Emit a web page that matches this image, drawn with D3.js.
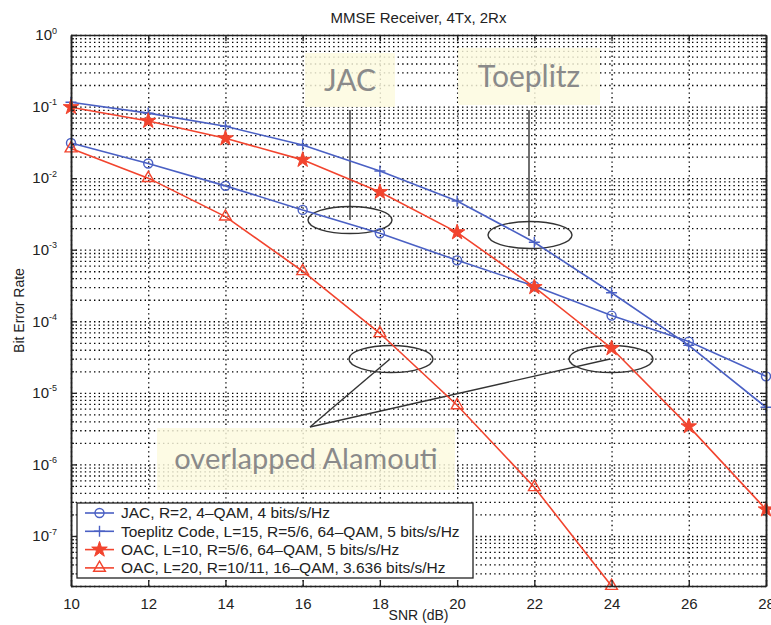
<!DOCTYPE html>
<html>
<head>
<meta charset="utf-8">
<script src="https://cdn.jsdelivr.net/npm/d3@7"></script>
<style>
body { margin: 0; background: #fff; }
text { font-family: "Liberation Sans", Arial, sans-serif; }
</style>
</head>
<body>
<div id="svgcontainer"></div>
<script>
// data
var snr = [10, 12, 14, 16, 18, 20, 22, 24, 26, 28]
var berJAC = [0.031, 0.016, 0.0078, 0.0036, 0.0017, 0.00071, 0.00031, 0.00012, 0.000052, 0.000017]
var berToeplitz = [0.115, 0.081, 0.053, 0.029, 0.0126, 0.0048, 0.00127, 0.00025, 0.000046, 0.0000063]
var berOAC10 = [0.098, 0.063, 0.036, 0.018, 0.0064, 0.00175, 0.0003, 0.000042, 0.0000034, 0.000000235]
var berOAC20 = [0.026, 0.010, 0.0029, 0.0005, 0.000068, 0.0000067, 0.00000048, 0.00000002]
var seriesNames = [
    "JAC, R=2, 4\u2013QAM, 4 bits/s/Hz",
    "Toeplitz Code, L=15, R=5/6, 64\u2013QAM, 5 bits/s/Hz",
    "OAC, L=10, R=5/6, 64\u2013QAM, 5 bits/s/Hz",
    "OAC, L=20, R=10/11, 16\u2013QAM, 3.636 bits/s/Hz"
]
var xTicks = [10, 12, 14, 16, 18, 20, 22, 24, 26, 28]
var yExponents = [0, -1, -2, -3, -4, -5, -6, -7]
var yMin = 2e-8

var blue = "#4a60c4", red = "#f2442e"
var series = [
    { name: seriesNames[0], values: berJAC, color: blue, marker: "circle" },
    { name: seriesNames[1], values: berToeplitz, color: blue, marker: "plus" },
    { name: seriesNames[2], values: berOAC10, color: red, marker: "star" },
    { name: seriesNames[3], values: berOAC20, color: red, marker: "triangle" }
]

// dimensions
var W = 771, H = 625
var margin = { top: 35, right: 5, bottom: 39, left: 71 },
width = W - margin.left - margin.right,
height = H - margin.top - margin.bottom

var svg = d3.select("#svgcontainer")
    .append("svg")
        .attr("width", W)
        .attr("height", H)

var g = svg.append("g")
    .attr("transform", "translate(" + margin.left + "," + margin.top + ")")

var x = d3.scaleLinear().domain([10, 28]).range([0, width])
var y = d3.scaleLog().domain([1, yMin]).range([0, height])

var decades = yExponents.map(e => Math.pow(10, e))
var minors = []
for (var e = -8; e < 0; e++) {
    for (var m = 2; m <= 9; m++) {
        var v = m * Math.pow(10, e)
        if (v >= yMin) minors.push(v)
    }
}
var allY = decades.concat(minors)

// grid (matlab dotted)
var gridStyle = function(sel) {
    sel.select(".domain").remove()
    sel.selectAll("line")
        .attr("stroke", "#000")
        .attr("stroke-width", 1.3)
        .attr("stroke-dasharray", "1.4,3.2")
}
g.append("g")
    .attr("transform", "translate(0," + height + ")")
    .call(d3.axisTop(x).tickValues(xTicks).tickSize(height).tickFormat(""))
    .call(gridStyle)
g.append("g")
    .call(d3.axisLeft(y).tickValues(allY).tickSize(-width).tickFormat(""))
    .call(gridStyle)

// annotation boxes
var ann = g.append("g").attr("transform", "translate(" + (-margin.left) + "," + (-margin.top) + ")")
var boxes = [
    { text: "JAC", x: 305, y: 53, w: 90, h: 54, size: 30 },
    { text: "Toeplitz", x: 458, y: 48, w: 142, h: 57, size: 30 },
    { text: "overlapped Alamouti", x: 157, y: 428, w: 298, h: 62, size: 29 }
]
boxes.forEach(b => {
    ann.append("rect")
        .attr("x", b.x).attr("y", b.y)
        .attr("width", b.w).attr("height", b.h)
        .attr("fill", "rgba(252, 250, 222, 0.82)")
    ann.append("text")
        .attr("x", b.x + b.w / 2)
        .attr("y", b.y + b.h / 2)
        .attr("dy", "0.35em")
        .attr("text-anchor", "middle")
        .style("font-family", "Lato, 'Open Sans', sans-serif")
        .style("font-size", b.size + "px")
        .attr("fill", "#8a8a8a")
        .text(b.text)
})
var ellipses = [[350, 220], [530, 235], [391, 359], [611, 359]]
ellipses.forEach(p => {
    ann.append("ellipse")
        .attr("cx", p[0]).attr("cy", p[1])
        .attr("rx", 42).attr("ry", 13.5)
        .attr("fill", "none")
        .attr("stroke", "#333")
        .attr("stroke-width", 1.4)
})
var pointers = [[350, 110, 350, 220], [529, 110, 529, 236], [310, 427, 390, 359], [310, 427, 610, 359]]
pointers.forEach(p => {
    ann.append("line")
        .attr("x1", p[0]).attr("y1", p[1])
        .attr("x2", p[2]).attr("y2", p[3])
        .attr("stroke", "#333")
        .attr("stroke-width", 1.4)
})

// markers
var drawMarker = function(sel, kind, color) {
    if (kind == "circle") {
        sel.append("circle").attr("r", 4.5)
            .attr("fill", "none").attr("stroke", color).attr("stroke-width", 1.4)
    } else if (kind == "plus") {
        sel.append("path").attr("d", "M-5.5,0H5.5M0,-5.5V5.5")
            .attr("fill", "none").attr("stroke", color).attr("stroke-width", 1.4)
    } else if (kind == "star") {
        sel.append("path").attr("d", d3.symbol(d3.symbolStar, 75)())
            .attr("fill", color).attr("stroke", color).attr("stroke-width", 1)
    } else {
        sel.append("path").attr("d", d3.symbol(d3.symbolTriangle, 60)())
            .attr("fill", "none").attr("stroke", color).attr("stroke-width", 1.4)
    }
}

// lines
var line = d3.line()
    .x((d, i) => x(snr[i]))
    .y(d => y(d))
series.forEach(s => {
    g.append("path")
        .attr("d", line(s.values))
        .attr("fill", "none")
        .attr("stroke", s.color)
        .attr("stroke-width", 1.6)
    s.values.forEach((v, i) => {
        var mk = g.append("g").attr("transform", "translate(" + x(snr[i]) + "," + y(v) + ")")
        drawMarker(mk, s.marker, s.color)
    })
})

// axes box and ticks (inward)
var axStyle = function(sel) {
    sel.select(".domain").attr("stroke", "#222").attr("stroke-width", 1.5)
    sel.selectAll("line").attr("stroke", "#222").attr("stroke-width", 1.3)
    sel.selectAll("text").style("font-size", "15px").attr("fill", "#222")
}
g.append("g")
    .attr("transform", "translate(0," + height + ")")
    .call(d3.axisBottom(x).tickValues(xTicks).tickSizeInner(-6).tickSizeOuter(0).tickPadding(12))
    .call(axStyle)
g.append("g")
    .call(d3.axisTop(x).tickValues(xTicks).tickSizeInner(-6).tickSizeOuter(0).tickFormat(""))
    .call(axStyle)
var yl = g.append("g")
    .call(d3.axisLeft(y).tickValues(decades).tickSizeInner(-6).tickSizeOuter(0).tickPadding(14))
    .call(axStyle)
g.append("g")
    .call(d3.axisLeft(y).tickValues(minors).tickSizeInner(-3).tickSizeOuter(0).tickFormat(""))
    .call(axStyle)
g.append("g")
    .attr("transform", "translate(" + width + ",0)")
    .call(d3.axisRight(y).tickValues(decades).tickSizeInner(-6).tickSizeOuter(0).tickFormat(""))
    .call(axStyle)
g.append("g")
    .attr("transform", "translate(" + width + ",0)")
    .call(d3.axisRight(y).tickValues(minors).tickSizeInner(-3).tickSizeOuter(0).tickFormat(""))
    .call(axStyle)
// log tick labels as 10^n
yl.selectAll(".tick text")
    .text("10")
    .append("tspan")
        .attr("dy", "-0.75em")
        .style("font-size", "9px")
        .text(d => Math.round(Math.log10(d)))

// legend
var lg = g.append("g").attr("transform", "translate(6," + (height - 83) + ")")
lg.append("rect")
    .attr("width", 396).attr("height", 75)
    .attr("fill", "#fff").attr("stroke", "#222").attr("stroke-width", 1.3)
series.forEach((s, i) => {
    var row = lg.append("g").attr("transform", "translate(0," + (10 + i * 18.3) + ")")
    row.append("line").attr("x1", 8).attr("x2", 37)
        .attr("stroke", s.color).attr("stroke-width", 1.6)
    drawMarker(row.append("g").attr("transform", "translate(22.5,0)"), s.marker, s.color)
    row.append("text")
        .attr("x", 44).attr("dy", "0.35em")
        .style("font-size", "15.5px")
        .attr("fill", "#222")
        .text(s.name)
})

// title and labels
svg.append("text")
    .attr("x", margin.left + width / 2).attr("y", 23)
    .attr("text-anchor", "middle")
    .style("font-size", "15px")
    .attr("fill", "#222")
    .text("MMSE Receiver, 4Tx, 2Rx")
svg.append("text")
    .attr("x", margin.left + width / 2).attr("y", 620)
    .attr("text-anchor", "middle")
    .style("font-size", "14px")
    .attr("fill", "#222")
    .text("SNR (dB)")
svg.append("text")
    .attr("transform", "translate(24," + (margin.top + height / 2) + ") rotate(-90)")
    .attr("text-anchor", "middle")
    .style("font-size", "14px")
    .attr("fill", "#222")
    .text("Bit Error Rate")
</script>
</body>
</html>
